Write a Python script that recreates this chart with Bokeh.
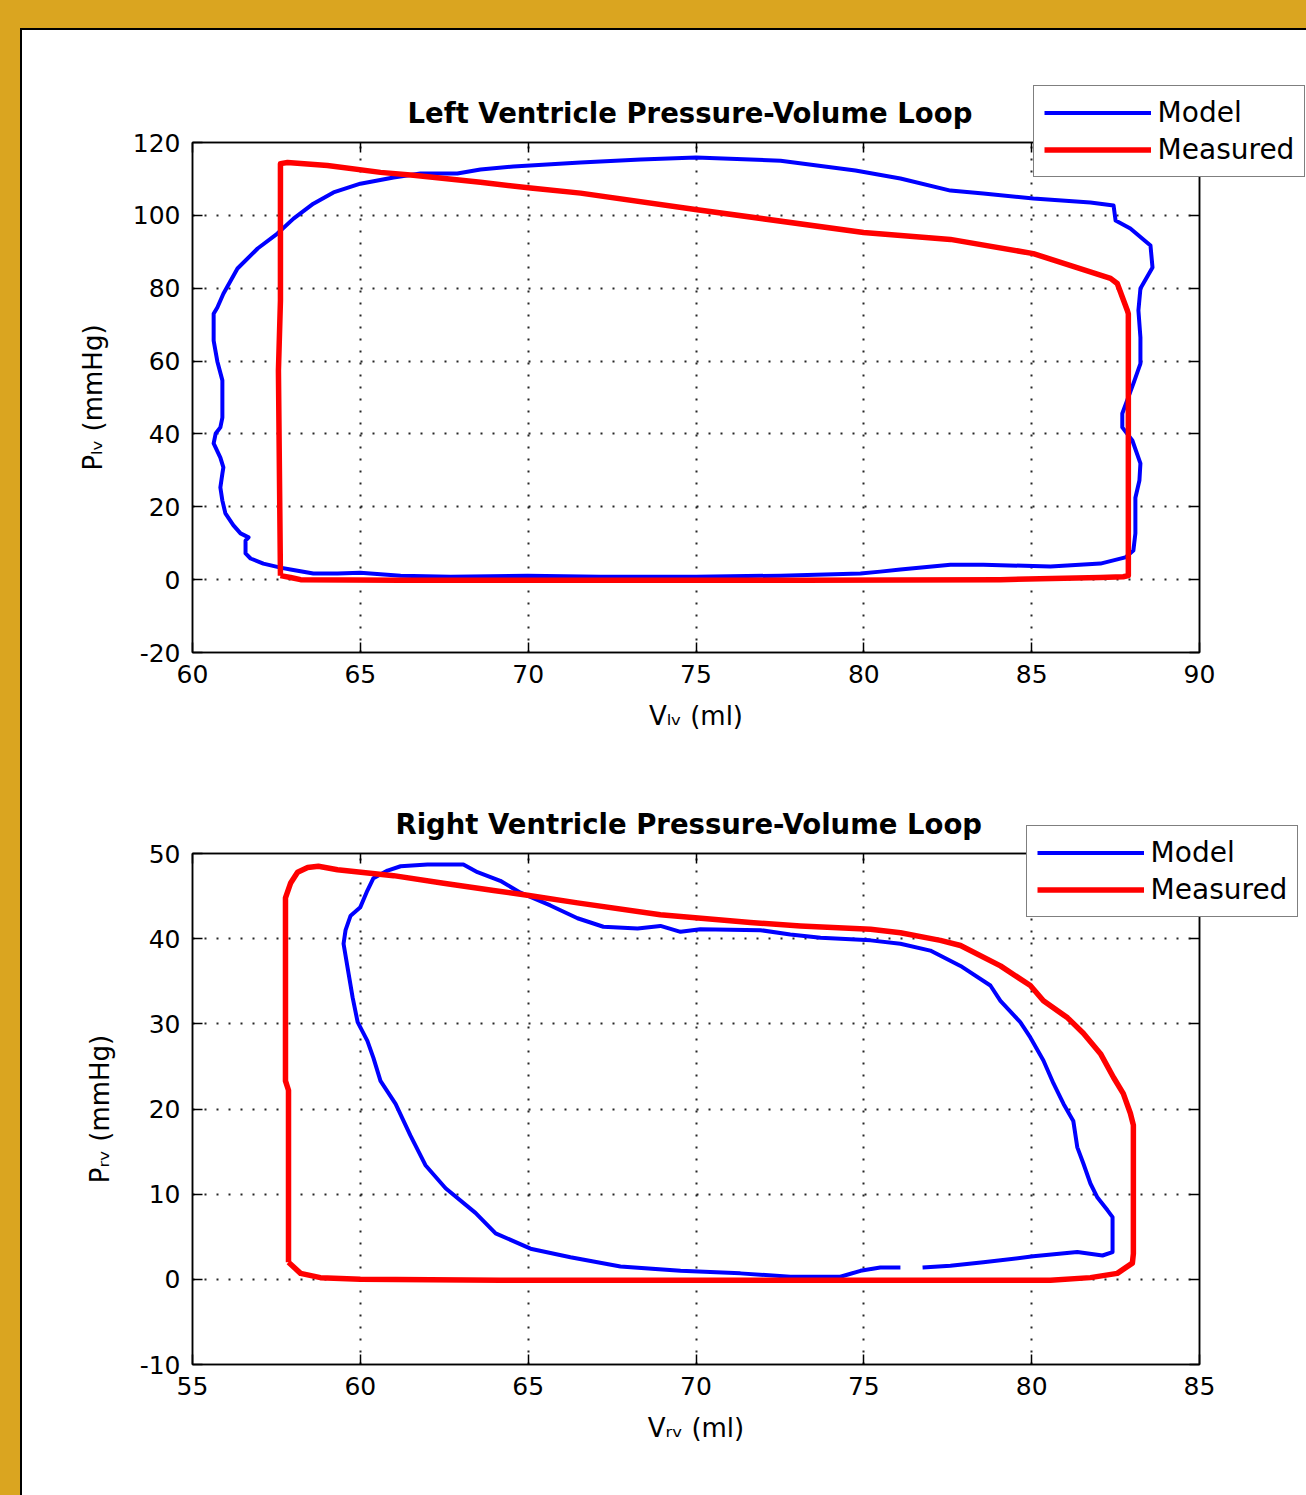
from bokeh.plotting import figure
from bokeh.models import (Range1d, LinearAxis, SingleIntervalTicker, Legend, LegendItem,
                          PrintfTickFormatter, CustomJSTickFormatter)
from bokeh.layouts import column
from bokeh.embed import file_html
from bokeh.resources import INLINE

# ---------------- data ----------------
lv_x_range = (60, 90)
lv_y_range = (-20, 120)
rv_x_range = (55, 85)
rv_y_range = (-10, 50)

lv_model_v = [62.62, 62.92, 63.60, 64.32, 65.00, 66.20, 67.69, 69.98, 72.15, 75.00,
              77.52, 79.90, 80.49, 81.09, 82.58, 83.56, 85.56, 87.05, 87.79, 88.03,
              88.09, 88.09, 88.21, 88.24, 88.00, 87.70, 87.70, 88.03, 88.24, 88.24,
              88.18, 88.24, 88.60, 88.54, 87.94, 87.50, 87.44, 86.75, 85.05, 83.56,
              82.58, 81.09, 79.75, 77.52, 75.00, 73.35, 71.56, 69.56, 68.58, 67.89,
              66.79, 65.99, 65.00, 64.20, 63.60, 63.01, 62.53, 61.94, 61.34, 60.92,
              60.74, 60.63, 60.63, 60.74, 60.89, 60.89, 60.89, 60.83, 60.69, 60.63,
              60.83, 60.92, 60.89, 60.83, 60.89, 60.98, 61.22, 61.43, 61.67, 61.58,
              61.58, 61.73, 62.11, 62.62]
lv_model_p = [3.3, 2.8, 1.7, 1.7, 1.9, 1.1, 0.8, 1.1, 0.8, 0.8,
              1.1, 1.7, 2.2, 2.8, 4.1, 4.1, 3.6, 4.4, 6.1, 8.0,
              12.7, 22.5, 27.2, 31.9, 38.2, 41.8, 45.6, 53.8, 59.3, 66.5,
              73.9, 79.9, 85.7, 91.7, 96.4, 98.6, 102.7, 103.5, 104.6, 106.0,
              106.8, 110.1, 112.3, 115.0, 115.9, 115.3, 114.5, 113.4, 112.6, 111.5,
              111.5, 110.4, 108.7, 106.3, 103.2, 99.1, 95.0, 90.9, 85.4, 78.5,
              74.7, 73.0, 65.6, 59.9, 54.7, 49.2, 44.5, 41.8, 40.1, 37.4,
              33.5, 30.8, 29.1, 25.3, 21.7, 18.2, 14.9, 12.7, 11.6, 10.7,
              7.2, 5.8, 4.4, 3.3]

lv_meas_v = [62.62, 62.92, 63.22, 66.20, 72.15, 78.11, 84.07, 87.05, 87.73, 87.88,
             87.88, 87.88, 87.85, 87.55, 87.35, 85.05, 82.58, 79.99, 74.98, 71.56,
             70.07, 68.58, 66.58, 65.60, 64.02, 62.83, 62.62, 62.62, 62.56, 62.62]
lv_meas_p = [1.1, 0.6, 0.0, -0.2, -0.2, -0.2, 0.0, 0.6, 0.8, 1.1,
             35.4, 73.0, 73.9, 81.3, 82.7, 89.5, 93.4, 95.3, 101.6, 106.1,
             107.5, 109.1, 111.0, 111.8, 113.7, 114.5, 114.2, 76.6, 57.4, 1.1]

rv_model_v = [76.75, 77.58, 78.56, 80.05, 81.36, 82.11, 82.41, 82.41, 82.26, 81.96,
              81.75, 81.54, 81.36, 81.24, 80.95, 80.65, 80.35, 79.96, 79.66, 79.07,
              78.77, 77.88, 76.98, 76.09, 75.20, 73.71, 72.81, 71.92, 70.13, 69.54,
              68.94, 68.26, 67.24, 66.47, 65.66, 64.77, 64.17, 63.49, 63.07, 62.00,
              61.20, 60.81, 60.39, 60.21, 60.00, 59.71, 59.56, 59.50, 59.65, 59.77,
              59.92, 60.21, 60.39, 60.60, 61.05, 61.49, 61.94, 62.54, 63.43, 64.03,
              65.07, 66.26, 67.75, 69.54, 71.32, 72.81, 74.30, 74.90, 75.49, 76.09]
rv_model_p = [1.4, 1.6, 2.0, 2.7, 3.2, 2.8, 3.2, 7.3, 8.1, 9.6,
              11.25, 13.6, 15.5, 18.6, 20.6, 23.0, 25.7, 28.4, 30.2, 32.7,
              34.5, 36.8, 38.6, 39.4, 39.8, 40.1, 40.5, 41.0, 41.1, 40.8,
              41.5, 41.2, 41.4, 42.4, 43.9, 45.4, 46.8, 47.8, 48.7, 48.7,
              48.5, 48.0, 47.1, 45.65, 43.7, 42.7, 41.0, 39.4, 35.9, 33.1,
              30.2, 28.0, 26.0, 23.3, 20.6, 16.9, 13.4, 10.7, 7.8, 5.4,
              3.6, 2.6, 1.5, 1.0, 0.7, 0.3, 0.3, 1.0, 1.4, 1.4]

rv_meas_v = [57.86, 58.22, 58.81, 60.00, 64.17, 70.13, 76.09, 80.56, 81.75, 82.55,
             83.00, 83.03, 83.03, 82.94, 82.73, 82.44, 82.05, 81.54, 81.07, 80.35,
             79.96, 79.07, 77.88, 77.28, 76.09, 75.20, 73.11, 71.62, 68.94, 66.47,
             64.98, 63.97, 62.48, 60.99, 59.32, 58.75, 58.43, 58.13, 57.92, 57.77,
             57.77, 57.86, 57.86]
rv_meas_p = [2.0, 0.7, 0.2, 0.0, -0.1, -0.1, -0.1, -0.1, 0.2, 0.7,
             1.9, 3.0, 18.1, 19.5, 21.8, 23.7, 26.5, 28.9, 30.7, 32.7,
             34.5, 36.8, 39.2, 39.8, 40.7, 41.1, 41.5, 41.9, 42.8, 44.2,
             45.1, 45.65, 46.5, 47.4, 48.1, 48.5, 48.35, 47.8, 46.5, 44.8,
             23.3, 22.2, 2.0]

lv_title = "Left Ventricle Pressure-Volume Loop"
rv_title = "Right Ventricle Pressure-Volume Loop"
lv_xlabel = "V\u2097\u1d65 (ml)"
lv_ylabel = "P\u2097\u1d65 (mmHg)"
rv_xlabel = "V\u1d63\u1d65 (ml)"
rv_ylabel = "P\u1d63\u1d65 (mmHg)"
series_names = ["Model", "Measured"]

FONT = "DejaVu Sans"
BLUE = "#0000FF"
RED = "#FF0000"


def style_axis(ax, interval, show_labels=True):
    ax.ticker = SingleIntervalTicker(interval=interval, num_minor_ticks=0)
    ax.axis_line_color = "black"
    ax.axis_line_width = 1.5
    ax.major_tick_in = 10
    ax.major_tick_out = 0
    ax.major_tick_line_color = "black"
    ax.major_tick_line_width = 1.5
    ax.minor_tick_in = 0
    ax.minor_tick_out = 0
    ax.major_label_text_font = FONT
    ax.major_label_text_color = "black"
    ax.major_label_text_font_size = "25px"
    ax.axis_label_text_font = FONT
    ax.axis_label_text_font_size = "26px"
    ax.axis_label_text_font_style = "normal"
    ax.axis_label_text_color = "black"
    if show_labels:
        ax.major_label_standoff = 12
        ax.formatter = PrintfTickFormatter(format="%d")
    else:
        ax.major_label_standoff = 0
        ax.formatter = CustomJSTickFormatter(code="return '';")


def make_panel(mb, xr, yr, xint, yint, fh, title, title_offset, xlabel, ylabel):
    p = figure(frame_width=1007, frame_height=fh, output_backend="svg",
               toolbar_location=None, x_range=Range1d(*xr), y_range=Range1d(*yr),
               min_border_left=mb[0], min_border_top=mb[1],
               min_border_right=0, min_border_bottom=mb[2])
    p.background_fill_color = "white"
    p.border_fill_color = "white"
    p.outline_line_color = "black"
    p.outline_line_width = 1.5
    style_axis(p.xaxis[0], xint)
    style_axis(p.yaxis[0], yint)
    p.xaxis[0].axis_label = xlabel
    p.xaxis[0].axis_label_standoff = 15
    p.yaxis[0].axis_label = ylabel
    p.yaxis[0].axis_label_standoff = 22
    top = LinearAxis()
    right = LinearAxis()
    style_axis(top, xint, False)
    style_axis(right, yint, False)
    p.add_layout(top, "above")
    p.add_layout(right, "right")
    for g, iv in ((p.xgrid[0], xint), (p.ygrid[0], yint)):
        g.ticker = SingleIntervalTicker(interval=iv, num_minor_ticks=0)
        g.grid_line_color = "black"
        g.grid_line_alpha = 0.85
        g.grid_line_width = 2
        g.grid_line_dash = "2 10"
    p.title.text = title
    p.title.align = "left"
    p.title.offset = title_offset
    p.title.text_font = FONT
    p.title.text_font_style = "bold"
    p.title.text_font_size = "27.5px"
    p.title.text_color = "black"
    p.title.standoff = 28
    return p


def add_legend(p, r_model, r_meas, loc):
    leg = Legend(items=[LegendItem(label=series_names[0], renderers=[r_model]),
                        LegendItem(label=series_names[1], renderers=[r_meas])],
                 location=loc, margin=0, padding=10, spacing=4,
                 glyph_width=107, glyph_height=31, label_standoff=7,
                 label_text_font=FONT, label_text_font_size="28px",
                 label_text_color="black",
                 border_line_color="black", border_line_width=1.5,
                 background_fill_color="white", background_fill_alpha=1.0)
    p.add_layout(leg, "right")


# ---------------- top panel: left ventricle ----------------
p1 = make_panel((170, 112, 108), lv_x_range, lv_y_range, 5, 20, 510,
                lv_title, 215, lv_xlabel, lv_ylabel)
b1 = p1.line(lv_model_v, lv_model_p, line_color=BLUE, line_width=4, line_join="round")
m1 = p1.line(lv_meas_v, lv_meas_p, line_color=RED, line_width=5.5, line_join="round")
add_legend(p1, b1, m1, (-363, 475))

# ---------------- bottom panel: right ventricle ----------------
p2 = make_panel((170, 93, 131), rv_x_range, rv_y_range, 5, 10, 511,
                rv_title, 203, rv_xlabel, rv_ylabel)
b2 = p2.line(rv_model_v, rv_model_p, line_color=BLUE, line_width=4, line_join="round")
m2 = p2.line(rv_meas_v, rv_meas_p, line_color=RED, line_width=5.5, line_join="round")
add_legend(p2, b2, m2, (-370, 447))

layout = column(p1, p2, spacing=0, margin=(28, 0, 0, 20),
                styles={"border-left": "2px solid black", "border-top": "2px solid black",
                        "background-color": "white"})

html = file_html(layout, INLINE)
css = "<style>html, body { background-color: #DAA520; overflow: hidden; }</style>"
html = html.replace("</head>", css + "</head>", 1)
open("out.html", "w").write(html)
